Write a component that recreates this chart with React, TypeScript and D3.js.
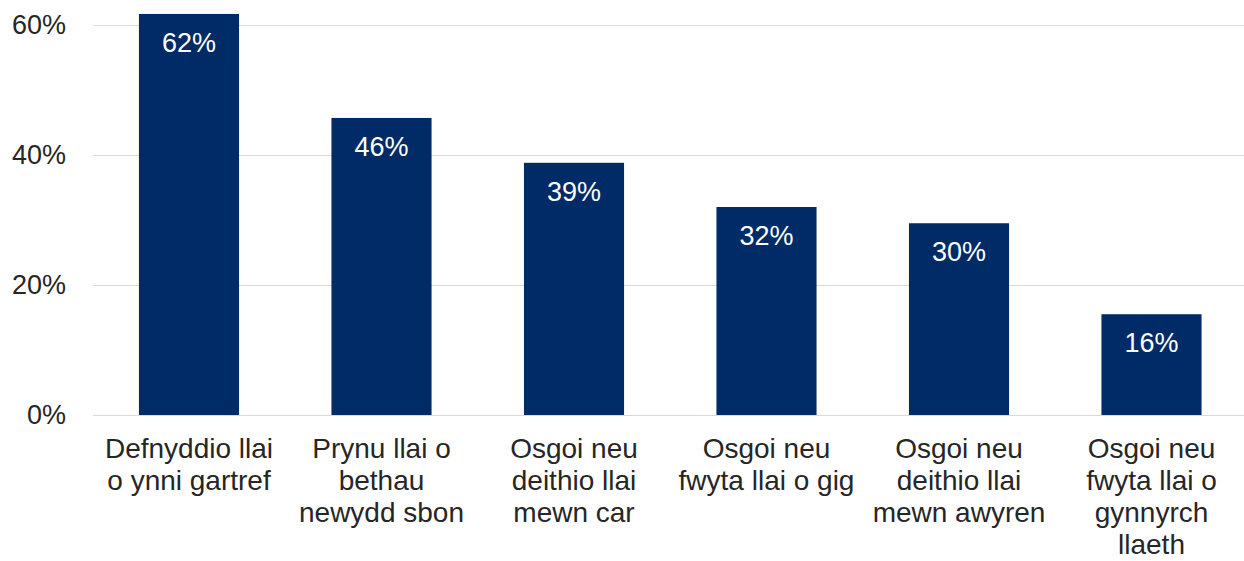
import React, { useRef, useEffect } from 'react';
import * as d3 from 'd3';

const categories = [
  ['Defnyddio llai', 'o ynni gartref'],
  ['Prynu llai o', 'bethau', 'newydd sbon'],
  ['Osgoi neu', 'deithio llai', 'mewn car'],
  ['Osgoi neu', 'fwyta llai o gig'],
  ['Osgoi neu', 'deithio llai', 'mewn awyren'],
  ['Osgoi neu', 'fwyta llai o', 'gynnyrch', 'llaeth'],
];
const values = [61.7, 45.7, 38.8, 32.0, 29.5, 15.5];
const yTicks = [0, 20, 40, 60];

const WIDTH = 1244;
const HEIGHT = 561;
const FONT = "'Liberation Sans', Arial, sans-serif";

function drawChart(el: SVGSVGElement) {
  const svg = d3.select(el);
  svg.selectAll('*').remove();

  const x = d3.scaleBand<number>()
    .domain(d3.range(values.length))
    .range([92.75, 1247.75])
    .paddingInner(0.48)
    .paddingOuter(0.24);

  const y = d3.scaleLinear()
    .domain([0, 60])
    .range([415, 25]);

  // gridlines
  svg.append('g')
    .selectAll('line')
    .data(yTicks)
    .enter().append('line')
    .attr('x1', 93)
    .attr('x2', WIDTH)
    .attr('y1', d => y(d) + 0.5)
    .attr('y2', d => y(d) + 0.5)
    .attr('stroke', '#d9d9d9')
    .attr('stroke-width', 1.2);

  // tick labels
  svg.append('g')
    .selectAll('text')
    .data(yTicks)
    .enter().append('text')
    .attr('x', 66)
    .attr('y', d => y(d))
    .attr('dy', '0.35em')
    .attr('text-anchor', 'end')
    .style('font-family', FONT)
    .style('font-size', '27px')
    .style('fill', '#262626')
    .text(d => d + '%');

  // bars
  svg.append('g')
    .selectAll('rect')
    .data(values)
    .enter().append('rect')
    .attr('x', (d, i) => x(i)!)
    .attr('width', x.bandwidth())
    .attr('y', d => y(d))
    .attr('height', d => y(0) - y(d))
    .style('fill', '#002b66');

  // data labels
  svg.append('g')
    .selectAll('text')
    .data(values)
    .enter().append('text')
    .attr('x', (d, i) => x(i)! + x.bandwidth() / 2)
    .attr('y', d => y(d) + 38)
    .attr('text-anchor', 'middle')
    .style('font-family', FONT)
    .style('font-size', '27px')
    .style('fill', '#ffffff')
    .text(d => Math.round(d) + '%');

  // category labels
  const cat = svg.append('g')
    .selectAll('text')
    .data(categories)
    .enter().append('text')
    .attr('x', (d, i) => x(i)! + x.bandwidth() / 2)
    .attr('y', 458)
    .attr('text-anchor', 'middle')
    .style('font-family', FONT)
    .style('font-size', '28px')
    .style('fill', '#262626');

  cat.selectAll('tspan')
    .data(d => d)
    .enter().append('tspan')
    .attr('x', function () {
      return (this as any).parentNode.getAttribute('x');
    })
    .attr('dy', (d, i) => (i === 0 ? 0 : 32))
    .text(d => d);
}

export default function App() {
  const ref = useRef<SVGSVGElement>(null);

  useEffect(() => {
    if (ref.current) drawChart(ref.current);
  }, []);

  return (
    <svg
      ref={ref}
      width={WIDTH}
      height={HEIGHT}
      style={{ position: 'absolute', left: 0, top: 0, background: '#fff' }}
    />
  );
}
